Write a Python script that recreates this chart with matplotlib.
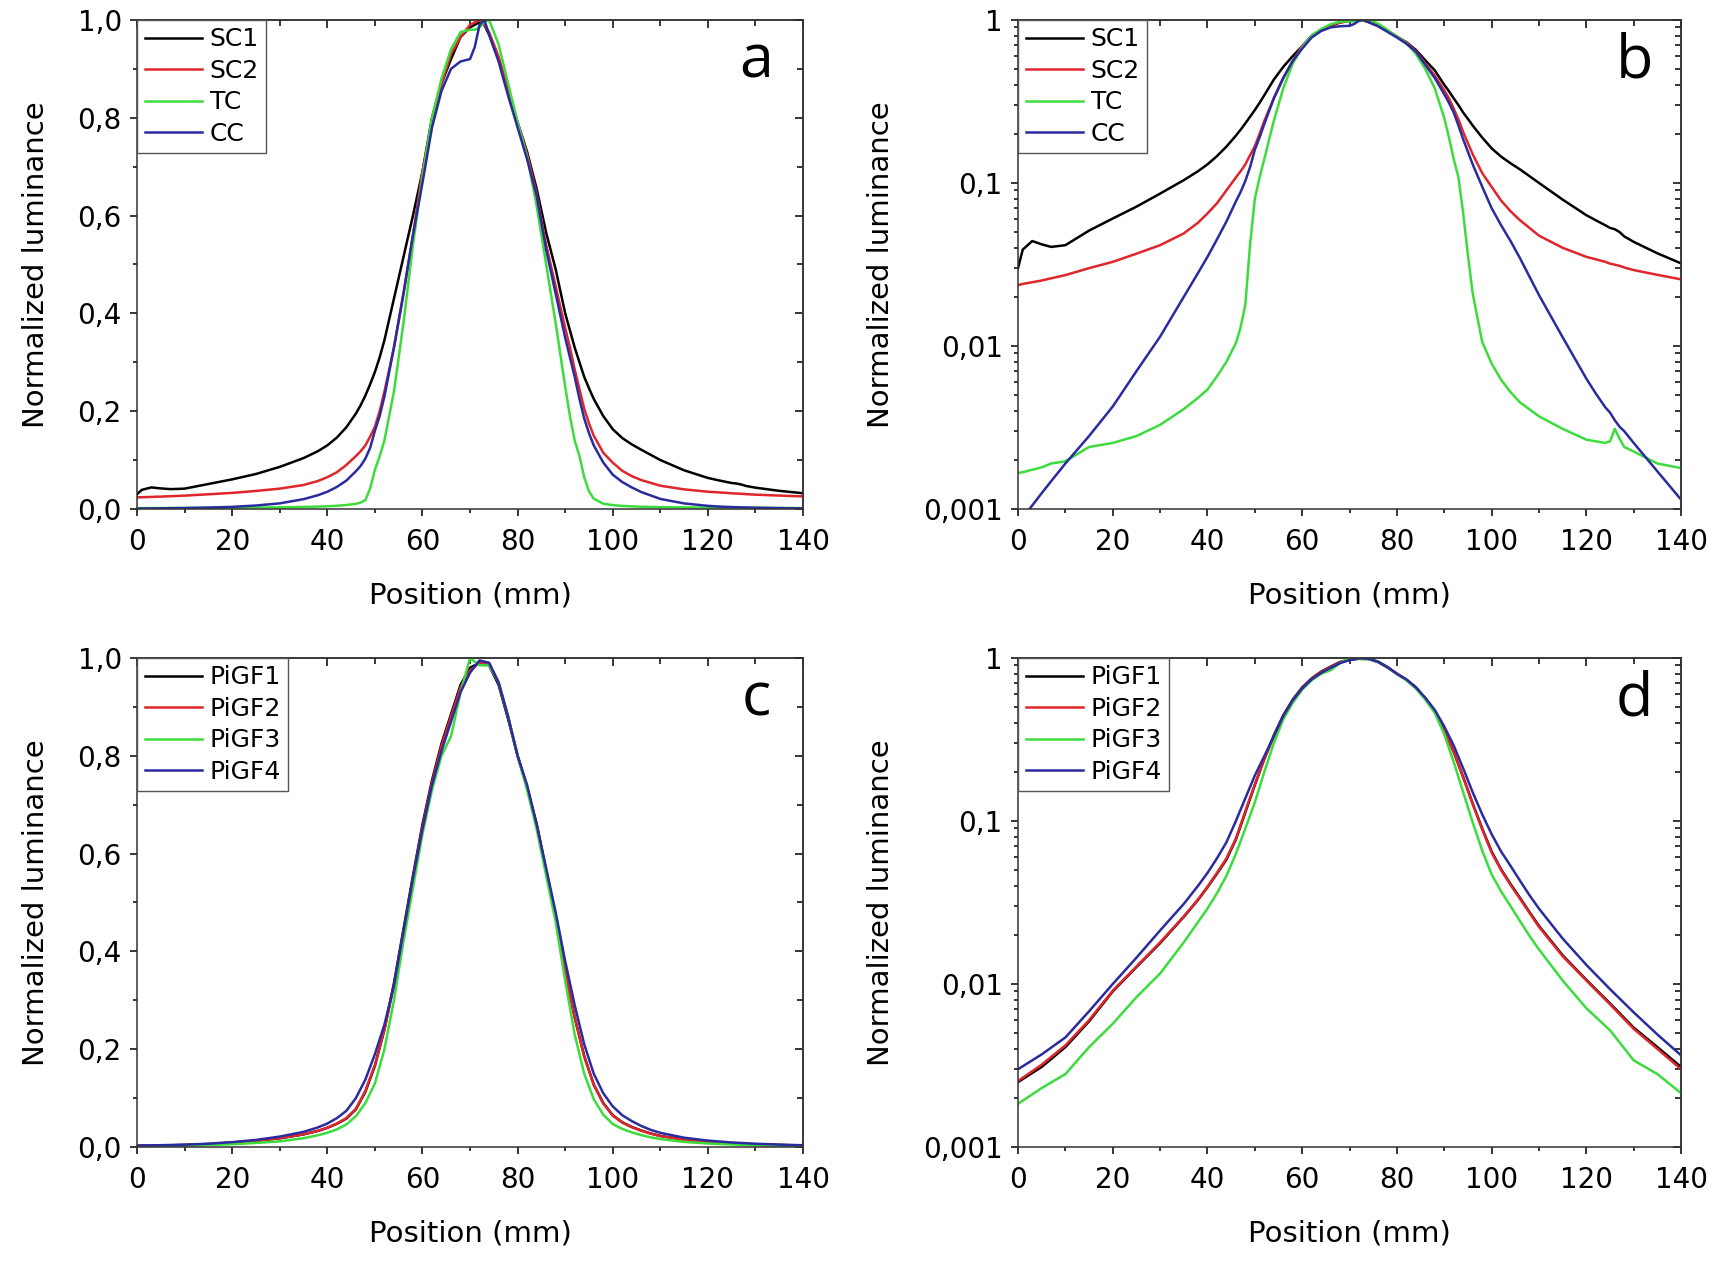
import matplotlib.pyplot as plt
from matplotlib.ticker import MultipleLocator, FixedLocator, LogLocator, NullFormatter, FuncFormatter

# position grid (mm) for the SC/TC/CC profiles (panels a, b)
pos_ab = [0, 1, 3, 5, 7, 10, 15, 20, 25, 30, 35, 38, 40, 42, 44, 46, 47, 48, 49, 50, 51, 52,
          54, 56, 58, 60, 62, 64, 66, 68, 70, 71, 72, 73, 74, 76, 78, 80, 82, 84, 86, 88, 90,
          91, 92, 93, 94, 95, 96, 98, 100, 102, 104, 106, 110, 115, 120, 122, 124, 125, 126, 127,
          128, 130, 135, 140]

sc1 = [0.030, 0.039, 0.044, 0.042, 0.0405, 0.0415, 0.051, 0.0605, 0.0715, 0.086, 0.104, 0.118,
       0.13, 0.146, 0.167, 0.195, 0.212, 0.232, 0.255, 0.28, 0.31, 0.345,
       0.43, 0.515, 0.60, 0.69, 0.80, 0.87, 0.92, 0.965, 0.985, 0.99, 0.995, 0.99, 0.97, 0.92,
       0.855, 0.79, 0.73, 0.655, 0.565, 0.49, 0.40,
       0.365, 0.33, 0.30, 0.27, 0.247, 0.225, 0.19, 0.163, 0.145, 0.132, 0.121, 0.100, 0.079, 0.0634,
       0.059, 0.055, 0.053, 0.052, 0.050,
       0.047, 0.0435, 0.037, 0.0321]

sc2 = [0.0236, 0.024, 0.0246, 0.0252, 0.026, 0.0272, 0.030, 0.0328, 0.0368, 0.0415, 0.049, 0.057,
       0.065, 0.075, 0.09, 0.108, 0.118, 0.13, 0.148, 0.168, 0.20, 0.24,
       0.33, 0.44, 0.56, 0.69, 0.79, 0.87, 0.93, 0.965, 0.99, 0.995, 1.0, 0.99, 0.975, 0.925,
       0.86, 0.79, 0.725, 0.645, 0.54, 0.455, 0.37,
       0.33, 0.285, 0.245, 0.205, 0.175, 0.15, 0.115, 0.0946, 0.078, 0.067, 0.059, 0.0475, 0.040, 0.0352,
       0.034, 0.0328, 0.032, 0.0315, 0.031,
       0.0303, 0.0292, 0.0273, 0.0256]

tc = [0.00166, 0.00168, 0.00174, 0.0018, 0.0019, 0.00196, 0.0024, 0.00254, 0.0028, 0.00328, 0.0041, 0.0048,
      0.0054, 0.0065, 0.008, 0.0104, 0.013, 0.018, 0.042, 0.08, 0.108, 0.14,
      0.24, 0.38, 0.54, 0.68, 0.80, 0.88, 0.94, 0.975, 0.98, 0.98, 0.985, 0.995, 1.0, 0.95,
      0.87, 0.79, 0.72, 0.62, 0.50, 0.38, 0.25,
      0.19, 0.14, 0.108, 0.065, 0.036, 0.021, 0.0106, 0.0078, 0.0062, 0.0052, 0.0045, 0.0037, 0.0031, 0.00266,
      0.0026, 0.00254, 0.0026, 0.0031, 0.0027,
      0.0024, 0.00225, 0.0019, 0.00178]

cc = [0.00079, 0.00088, 0.00105, 0.00125, 0.00148, 0.0019, 0.0028, 0.00425, 0.0070, 0.0114, 0.020, 0.028,
      0.0352, 0.045, 0.058, 0.077, 0.088, 0.103, 0.125, 0.16, 0.19, 0.23,
      0.33, 0.44, 0.56, 0.667, 0.78, 0.855, 0.90, 0.915, 0.92, 0.945, 0.99, 1.0, 0.97, 0.915,
      0.845, 0.78, 0.715, 0.64, 0.53, 0.44, 0.35,
      0.31, 0.27, 0.225, 0.185, 0.155, 0.13, 0.095, 0.07, 0.055, 0.044, 0.0345, 0.0205, 0.0113, 0.0063,
      0.0051, 0.0042, 0.0039, 0.0035, 0.0032,
      0.0030, 0.00254, 0.0017, 0.00114]

# position grid (mm) for the PiGF profiles (panels c, d)
pos_cd = [0, 5, 10, 15, 20, 25, 30, 35, 38, 40, 42, 44, 46, 48, 50, 52, 54, 56, 58, 60, 62, 64,
          66, 68, 70, 72, 74, 76, 78, 80, 82, 84, 86, 88, 90, 92, 94, 96, 98, 100, 102, 104, 106,
          108, 110, 115, 120, 125, 130, 135, 140]

pigf1 = [0.0025, 0.0031, 0.0041, 0.0059, 0.009, 0.0127, 0.0178, 0.0258, 0.0328, 0.0392, 0.0475, 0.058,
         0.077, 0.113, 0.166, 0.24, 0.335, 0.445, 0.555, 0.66, 0.75, 0.825,
         0.885, 0.945, 0.98, 0.99, 0.985, 0.945, 0.875, 0.80, 0.735, 0.66, 0.565, 0.47, 0.36, 0.265,
         0.186, 0.128, 0.09, 0.065, 0.0505, 0.041, 0.0337, 0.0276, 0.0227, 0.015, 0.0106, 0.0076,
         0.0054, 0.0041, 0.0031]

pigf2 = [0.00254, 0.0032, 0.0042, 0.006, 0.0091, 0.0128, 0.018, 0.026, 0.033, 0.0395, 0.048, 0.059,
         0.078, 0.115, 0.168, 0.24, 0.33, 0.44, 0.55, 0.655, 0.745, 0.82,
         0.88, 0.94, 0.975, 0.99, 0.99, 0.95, 0.88, 0.80, 0.735, 0.66, 0.565, 0.47, 0.36, 0.265,
         0.185, 0.127, 0.089, 0.064, 0.050, 0.0405, 0.0333, 0.0273, 0.0224, 0.0148, 0.0105, 0.0075,
         0.0053, 0.0040, 0.0030]

pigf3 = [0.00184, 0.0023, 0.0028, 0.0041, 0.0057, 0.0083, 0.0116, 0.018, 0.024, 0.029, 0.036, 0.046,
         0.063, 0.09, 0.13, 0.20, 0.30, 0.42, 0.53, 0.64, 0.73, 0.80,
         0.84, 0.93, 1.0, 0.985, 0.985, 0.95, 0.88, 0.80, 0.73, 0.65, 0.555, 0.46, 0.34, 0.23,
         0.15, 0.098, 0.066, 0.047, 0.037, 0.030, 0.0243, 0.0197, 0.0163, 0.0105, 0.0071, 0.0052,
         0.0034, 0.0028, 0.00214]

pigf4 = [0.0030, 0.0037, 0.0047, 0.0068, 0.0100, 0.0145, 0.0213, 0.031, 0.040, 0.048, 0.059, 0.074,
         0.10, 0.138, 0.19, 0.25, 0.33, 0.44, 0.55, 0.65, 0.74, 0.81,
         0.87, 0.93, 0.97, 0.995, 0.99, 0.95, 0.88, 0.80, 0.74, 0.66, 0.57, 0.48, 0.38, 0.29,
         0.21, 0.15, 0.11, 0.083, 0.065, 0.053, 0.043, 0.035, 0.029, 0.019, 0.0131, 0.0093,
         0.0067, 0.0049, 0.00365]

colors = ['#000000', '#e0262b', '#3ddc3d', '#2b2ba0']
log_ticks = [0.001, 0.01, 0.1, 1]
log_labels = ['0,001', '0,01', '0,1', '1']

fig = plt.figure(figsize=(17.24, 12.61), dpi=100)


def comma(v, pos):
    return ('%.1f' % v).replace('.', ',')


def log_label(v, pos):
    for t, lab in zip(log_ticks, log_labels):
        if abs(v - t) < t * 1e-6:
            return lab
    return ''


def make_panel(rect, x, series, names, letter, log):
    ax = fig.add_axes(rect)
    for y, name, c in zip(series, names, colors):
        ax.plot(x, y, color=c, lw=1.8, label=name)

    ax.set_xlim(0, 140)
    ax.xaxis.set_major_locator(MultipleLocator(20))
    ax.xaxis.set_minor_locator(MultipleLocator(10))
    if log:
        ax.set_yscale('log')
        ax.set_ylim(0.001, 1)
        ax.yaxis.set_major_locator(FixedLocator(log_ticks))
        ax.yaxis.set_major_formatter(FuncFormatter(log_label))
        ax.yaxis.set_minor_locator(LogLocator(base=10, subs=range(2, 10)))
        ax.yaxis.set_minor_formatter(NullFormatter())
    else:
        ax.set_ylim(0, 1.0)
        ax.yaxis.set_major_locator(MultipleLocator(0.2))
        ax.yaxis.set_minor_locator(MultipleLocator(0.1))
        ax.yaxis.set_major_formatter(FuncFormatter(comma))

    ax.tick_params(which='major', direction='out', length=5, width=1.1, labelsize=20, pad=6)
    ax.tick_params(which='minor', direction='out', length=3, width=1.1)
    ax.tick_params(axis='x', which='major', pad=9)
    for s in ax.spines.values():
        s.set_linewidth(1.1)
        s.set_color('#333333')

    # mirrored ticks pointing inward on top and right
    top = ax.secondary_xaxis('top')
    top.xaxis.set_major_locator(MultipleLocator(20))
    top.xaxis.set_minor_locator(MultipleLocator(10))
    top.tick_params(which='major', direction='in', length=6, width=1.1, labeltop=False)
    top.tick_params(which='minor', direction='in', length=4, width=1.1)
    right = ax.secondary_yaxis('right')
    if log:
        right.yaxis.set_major_locator(FixedLocator(log_ticks))
        right.yaxis.set_minor_locator(LogLocator(base=10, subs=range(2, 10)))
        right.yaxis.set_minor_formatter(NullFormatter())
    else:
        right.yaxis.set_major_locator(MultipleLocator(0.2))
        right.yaxis.set_minor_locator(MultipleLocator(0.1))
    right.tick_params(which='major', direction='in', length=6, width=1.1, labelright=False)
    right.tick_params(which='minor', direction='in', length=4, width=1.1)
    for sec in (top, right):
        for s in sec.spines.values():
            s.set_linewidth(1.1)
            s.set_color('#333333')

    ax.set_xlabel('Position (mm)', fontsize=21, labelpad=18)
    ax.set_ylabel('Normalized luminance', fontsize=21, labelpad=20)

    leg = ax.legend(loc='upper left', bbox_to_anchor=(0, 1), borderaxespad=0, fontsize=18,
                    handlelength=2.3, handletextpad=0.3, labelspacing=0.3, borderpad=0.3,
                    fancybox=False, edgecolor='#555555', framealpha=1)
    leg.get_frame().set_linewidth(1.0)

    ax.text(0.93, 0.915, letter, transform=ax.transAxes, fontsize=44,
            ha='center', va='center', family='Open Sans')
    return ax


names_ab = ['SC1', 'SC2', 'TC', 'CC']
names_cd = ['PiGF1', 'PiGF2', 'PiGF3', 'PiGF4']

make_panel([0.0795, 0.5964, 0.3863, 0.3878], pos_ab, [sc1, sc2, tc, cc], names_ab, 'a', False)
make_panel([0.5905, 0.5964, 0.3846, 0.3878], pos_ab, [sc1, sc2, tc, cc], names_ab, 'b', True)
make_panel([0.0795, 0.0904, 0.3863, 0.3878], pos_cd, [pigf1, pigf2, pigf3, pigf4], names_cd, 'c', False)
make_panel([0.5905, 0.0904, 0.3846, 0.3878], pos_cd, [pigf1, pigf2, pigf3, pigf4], names_cd, 'd', True)

fig.savefig('out.png', dpi=100)
